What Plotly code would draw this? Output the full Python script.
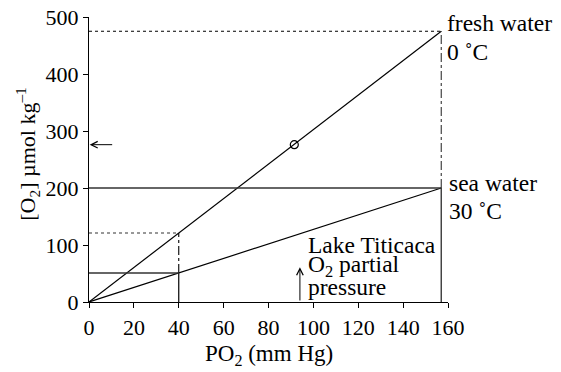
import plotly.graph_objects as go

# Data
pO2_air = 157          # mmHg, atmospheric O2 partial pressure at sea level
fresh_sat = 475        # umol/kg, fresh water 0 C saturation
sea_sat = 200          # umol/kg, sea water 30 C saturation
pO2_mark = 40          # mmHg, marked pressure
fresh_at_mark = 121
sea_at_mark = 51
circle_x = 91.5
circle_y = 276
arrow_y = 276
titicaca_x = 94
titicaca_arrow_top = 61

xticks = [0, 20, 40, 60, 80, 100, 120, 140, 160]
yticks = [0, 100, 200, 300, 400, 500]

FONT = "Liberation Serif, Times New Roman, serif"
FS = 22
FS_TXT = 23.5
BLACK = "#000"
fig = go.Figure()

def line(xs, ys, dash="solid", color=BLACK, width=1.2):
    fig.add_trace(go.Scatter(x=xs, y=ys, mode="lines", showlegend=False,
                             line=dict(color=color, width=width, dash=dash),
                             hoverinfo="skip", cliponaxis=False))

# Saturation lines
line([0, pO2_air], [0, fresh_sat])
line([0, pO2_air], [0, sea_sat])
# Reference lines
line([0, pO2_air], [fresh_sat, fresh_sat], dash="dot", width=1.1)
line([pO2_air, pO2_air], [sea_sat, fresh_sat], dash="dashdot", color="#444", width=1.2)
line([pO2_air, pO2_air], [0, sea_sat], color="#444", width=1.5)
line([0, pO2_air], [sea_sat, sea_sat], color="#333", width=1.4)
line([0, pO2_mark], [fresh_at_mark, fresh_at_mark], dash="dot", color="#333", width=1.1)
line([pO2_mark, pO2_mark], [sea_at_mark, fresh_at_mark], dash="dashdot", width=1.1)
line([pO2_mark, pO2_mark], [0, sea_at_mark], width=1.2)
line([0, pO2_mark], [sea_at_mark, sea_at_mark], color="#333", width=1.4)

# Circle marker
fig.add_trace(go.Scatter(x=[circle_x], y=[circle_y], mode="markers", showlegend=False,
                         marker=dict(symbol="circle-open", size=8, color=BLACK,
                                     line=dict(width=1.2)), hoverinfo="skip"))

txt = dict(showarrow=False, xanchor="left", yanchor="middle", xref="x", yref="y",
           font=dict(family=FONT, size=FS_TXT, color=BLACK))
annotations = [
    # left-pointing arrow at y axis
    dict(x=0.3, y=arrow_y, ax=11, ay=arrow_y, xref="x", yref="y", axref="x", ayref="y",
         showarrow=True, arrowhead=5, arrowsize=1.3, arrowwidth=1, arrowcolor=BLACK, text=""),
    # upward arrow for Lake Titicaca
    dict(x=titicaca_x, y=titicaca_arrow_top, ax=titicaca_x, ay=0, xref="x", yref="y",
         axref="x", ayref="y", showarrow=True, arrowhead=5, arrowsize=1.3, arrowwidth=1,
         arrowcolor=BLACK, text=""),
    dict(x=158.8, y=490, text="fresh water", **txt),
    dict(x=158.8, y=438, text="0 ˚C", **txt),
    dict(x=159.4, y=209, text="sea water", **txt),
    dict(x=159.4, y=160, text="30 ˚C", **txt),
    dict(x=96.8, y=100, text="Lake Titicaca", **txt),
    dict(x=96.8, y=63, text="O<sub>2</sub> partial", **txt),
    dict(x=96.8, y=26, text="pressure", **txt),
    # axis titles
    dict(x=0.5, y=-0.186, xref="paper", yref="paper", text="PO<sub>2</sub> (mm Hg)",
         showarrow=False, xanchor="center", yanchor="middle",
         font=dict(family=FONT, size=23, color=BLACK)),
    dict(x=-0.17, y=0.52, xref="paper", yref="paper", text="[O<sub>2</sub>] µmol kg<sup>–1</sup>",
         showarrow=False, xanchor="center", yanchor="middle", textangle=-90,
         font=dict(family=FONT, size=FS, color=BLACK)),
]

axis_common = dict(showgrid=False, zeroline=False, showline=True, linecolor=BLACK, linewidth=1.3,
                   ticks="outside", ticklen=5, tickwidth=1.2, tickcolor=BLACK, automargin=False,
                   tickfont=dict(family=FONT, size=FS, color=BLACK))

fig.update_layout(
    width=561, height=372,
    margin=dict(l=89, r=113, t=17, b=70),
    paper_bgcolor="white", plot_bgcolor="white",
    font=dict(family=FONT, size=FS, color=BLACK),
    annotations=annotations,
    xaxis=dict(range=[0, 160], tickvals=xticks, ticktext=[str(v) for v in xticks], **axis_common),
    yaxis=dict(range=[0, 500], tickvals=yticks, ticktext=[str(v) for v in yticks], **axis_common),
)

fig.write_html("out.html", config={"displayModeBar": False},
               post_script="document.body.style.margin='0';")
